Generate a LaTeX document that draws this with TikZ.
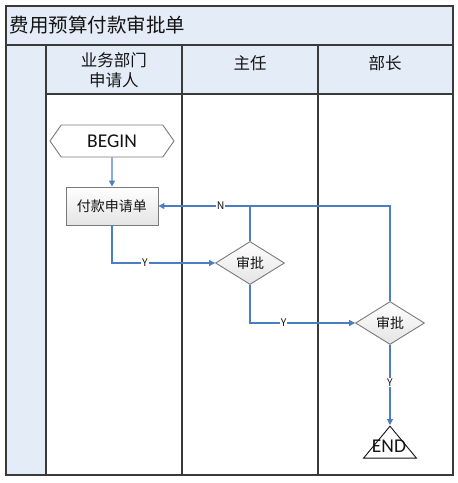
\documentclass[tikz,border=0pt]{standalone}
\usepackage{fontspec}
\setmainfont{Carlito}
\newfontfamily\cjk{Noto Sans CJK SC}
\usetikzlibrary{positioning,arrows.meta,shapes.geometric,shapes.symbols}
\definecolor{lane}{HTML}{E4ECF7}
\definecolor{rule}{HTML}{3A3A3A}
\definecolor{flow}{HTML}{4A7EC4}
\definecolor{edge}{HTML}{7A7A7A}
\definecolor{shadebot}{HTML}{E4E4E4}
\definecolor{ink}{HTML}{141414}
\begin{document}
\begin{tikzpicture}[x=1pt, y=-1pt,
  frame/.style={draw=rule, line width=1.3pt},
  head/.style={text=ink, font=\cjk\fontsize{16.5}{19.5}\selectfont, align=center},
  hexa/.style={signal, signal to=west and east, signal pointer angle=110, draw=edge, line width=0.9pt, fill=white,
    minimum width=124pt, minimum height=32pt, inner sep=0pt, text=ink, font=\fontsize{19.5}{22}\selectfont},
  proc/.style={draw=edge, line width=0.9pt, top color=white, bottom color=shadebot,
    minimum width=92pt, minimum height=38pt, inner sep=0pt, text=ink, font=\cjk\fontsize{14}{16}\selectfont},
  decide/.style={diamond, draw=edge, line width=0.9pt, top color=white, bottom color=shadebot, aspect=1.6,
    minimum width=69pt, minimum height=43pt, inner sep=0pt, text=ink, font=\cjk\fontsize{14}{16}\selectfont},
  stoptri/.style={isosceles triangle, isosceles triangle stretches, shape border rotate=90, draw=ink, line width=0.9pt,
    fill=white, minimum width=53pt, minimum height=32pt, inner sep=0pt},
  arr/.style={-{Triangle[length=6pt, width=6pt]}, draw=flow, line width=1.1pt},
  lnk/.style={draw=flow, line width=1.1pt},
  tag/.style={fill=white, inner sep=1pt, text=ink, font=\cjk\fontsize{10.5}{12}\selectfont}]
\useasboundingbox (0,0) rectangle (458,483);
% ---------------- lanes
\fill[lane] (6,6) rectangle (453,45);
\fill[lane] (6,45) rectangle (46,475);
\fill[lane] (46,45) rectangle (453,94);
\draw[frame] (6,6) rectangle (453,475);
\draw[frame] (6,45) -- (453,45);
\draw[frame] (46,94) -- (453,94);
\foreach \x in {46,182,318} \draw[frame] (\x,45) -- (\x,475);
\node[anchor=west, text=ink, font=\cjk\fontsize{19.5}{22}\selectfont] (title) at (6,25) {费用预算付款审批单};
\node[head] (h1) at (114,70) {业务部门\\申请人};
\node[head] (h2) at (250,63) {主任};
\node[head] (h3) at (385,63) {部长};
% ---------------- flow
\node[hexa] (begin) at (112,141) {BEGIN};
\node[proc] (apply) at (112,206) {付款申请单};
\node[decide] (chk1) at (250,263) {审批};
\node[decide] (chk2) at (390,323) {审批};
\node[stoptri, anchor=apex] (end) at (390,425) {};
\node[text=ink, font=\fontsize{19.5}{22}\selectfont] (endlab) at (389,446) {END};
\draw[arr] (begin) -- (apply);
\draw[arr] (apply.south) |- node[tag, pos=0.66]{Y} (chk1.west);
\draw[arr] (chk1.north) |- node[tag, pos=0.66]{N} (apply.east);
\draw[lnk] (chk2.north) |- (chk1.north |- apply.east);
\draw[arr] (chk1.south) |- node[tag, pos=0.66]{Y} (chk2.west);
\draw[arr] (chk2.south) -- node[tag, pos=0.47]{Y} (end.apex);
\end{tikzpicture}
\end{document}
